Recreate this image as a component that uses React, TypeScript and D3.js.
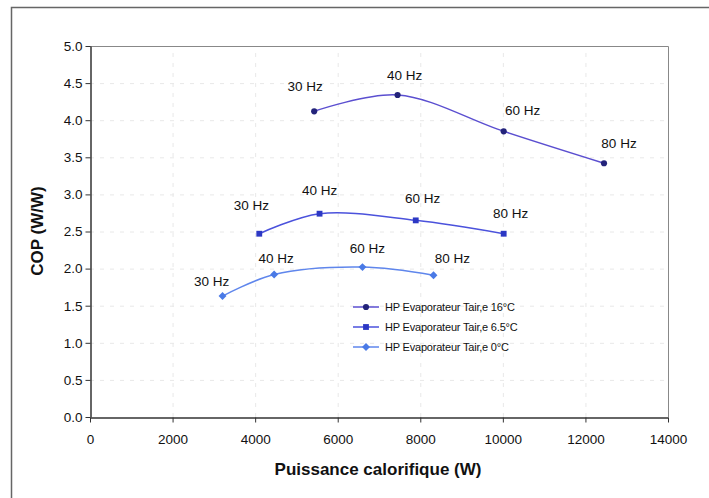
import React, { useEffect, useRef } from 'react';
import * as d3 from 'd3';

// data
const freqLabels = ['30 Hz', '40 Hz', '60 Hz', '80 Hz'];
const seriesNames = [
  'HP Evaporateur Tair,e 16°C',
  'HP Evaporateur Tair,e 6.5°C',
  'HP Evaporateur Tair,e 0°C',
];
const power16 = [5430, 7450, 10020, 12450];
const cop16 = [4.12, 4.34, 3.85, 3.42];
const power65 = [4100, 5560, 7890, 10020];
const cop65 = [2.47, 2.74, 2.65, 2.47];
const power0 = [3210, 4460, 6600, 8320];
const cop0 = [1.63, 1.92, 2.02, 1.91];

const xTicks = [0, 2000, 4000, 6000, 8000, 10000, 12000, 14000];
const yTicks = [0, 0.5, 1, 1.5, 2, 2.5, 3, 3.5, 4, 4.5, 5];

// label placement relative to each point (px)
const labelOffsets = [
  [[-9, -20], [7, -15], [19, -16], [15, -15]],
  [[-8, -24], [0, -19], [7, -17], [7, -16]],
  [[-11, -10], [2, -12], [5, -14], [19, -12]],
];

const lineColors = ['#5b4fd0', '#4b52dc', '#5f86ec'];
const markerColors = ['#23237a', '#2c38c4', '#4a7ae6'];
const markerShapes = [d3.symbolCircle, d3.symbolSquare, d3.symbolDiamond2];
const markerSizes = [30, 34, 40];

const W = 709;
const H = 498;
const margin = { left: 90, right: 41, top: 46, bottom: 81 };

const App = () => {
  const ref = useRef<SVGSVGElement>(null);

  useEffect(() => {
    const svg = d3.select(ref.current);
    svg.selectAll('*').remove();

    const font = 'Liberation Sans, Arial, sans-serif';

    const x = d3.scaleLinear().domain([0, 14000]).range([margin.left, W - margin.right]);
    const y = d3.scaleLinear().domain([0, 5]).range([H - margin.bottom, margin.top]);

    svg.append('rect').attr('width', W).attr('height', H).attr('fill', '#fff');

    // outer frame
    svg.append('path')
      .attr('d', `M${W + 2},7.5 H11.5 V${H + 2}`)
      .attr('fill', 'none')
      .attr('stroke', '#666')
      .attr('stroke-width', 1.5);

    // grid (very faint in the original)
    const grid = svg.append('g').attr('stroke', '#e8e8e8').attr('stroke-dasharray', '4,6');
    grid.selectAll('.gy')
      .data(yTicks.slice(1, -1))
      .enter()
      .append('line')
      .attr('x1', x(0)).attr('x2', x(14000))
      .attr('y1', d => y(d) + 0.5).attr('y2', d => y(d) + 0.5);
    grid.selectAll('.gx')
      .data(xTicks.slice(1, -1))
      .enter()
      .append('line')
      .attr('y1', y(0)).attr('y2', y(5))
      .attr('x1', d => x(d) + 0.5).attr('x2', d => x(d) + 0.5);

    // plot border top / right
    svg.append('path')
      .attr('d', `M${x(0)},${y(5) + 0.5} H${x(14000) + 0.5} V${y(0)}`)
      .attr('fill', 'none')
      .attr('stroke', '#888');

    // axes
    const xAxis = svg.append('g')
      .attr('transform', `translate(0,${y(0) + 0.5})`)
      .call(d3.axisBottom(x).tickValues(xTicks).tickSize(5).tickSizeOuter(0).tickFormat(d3.format('d')));
    xAxis.select('.domain').attr('stroke', '#333').attr('stroke-width', 1.5);
    xAxis.selectAll('line').attr('stroke', '#333');
    xAxis.selectAll('text')
      .attr('font-family', font).attr('font-size', 13.5).attr('fill', '#111').attr('dy', '1.35em');

    const yAxis = svg.append('g')
      .attr('transform', `translate(${x(0) + 0.5},0)`)
      .call(d3.axisLeft(y).tickValues(yTicks).tickSize(5).tickSizeOuter(0).tickFormat(d3.format('.1f')));
    yAxis.select('.domain').attr('stroke', '#333').attr('stroke-width', 1.5);
    yAxis.selectAll('line').attr('stroke', '#333');
    yAxis.selectAll('text')
      .attr('font-family', font).attr('font-size', 13.5).attr('fill', '#111').attr('x', -8);

    // axis titles
    svg.append('text')
      .attr('x', 378).attr('y', 475)
      .attr('text-anchor', 'middle')
      .attr('font-family', font).attr('font-size', 17).attr('font-weight', 'bold').attr('fill', '#111')
      .text('Puissance calorifique (W)');
    svg.append('text')
      .attr('transform', `translate(43,231) rotate(-90)`)
      .attr('text-anchor', 'middle')
      .attr('font-family', font).attr('font-size', 17).attr('font-weight', 'bold').attr('fill', '#111')
      .text('COP (W/W)');

    const series = [
      { xs: power16, ys: cop16 },
      { xs: power65, ys: cop65 },
      { xs: power0, ys: cop0 },
    ];

    const line = d3.line<[number, number]>()
      .x(d => x(d[0]))
      .y(d => y(d[1]))
      .curve(d3.curveCatmullRom.alpha(0.5));

    series.forEach((s, i) => {
      const pts: [number, number][] = s.xs.map((v, j) => [v, s.ys[j]]);
      svg.append('path')
        .datum(pts)
        .attr('d', line)
        .attr('fill', 'none')
        .attr('stroke', lineColors[i])
        .attr('stroke-width', 1.5);

      svg.selectAll(`.m${i}`)
        .data(pts)
        .enter()
        .append('path')
        .attr('d', d3.symbol().type(markerShapes[i]).size(markerSizes[i]))
        .attr('transform', d => `translate(${x(d[0])},${y(d[1])})`)
        .attr('fill', markerColors[i]);

      svg.selectAll(`.l${i}`)
        .data(pts)
        .enter()
        .append('text')
        .attr('x', (d, j) => x(d[0]) + labelOffsets[i][j][0])
        .attr('y', (d, j) => y(d[1]) + labelOffsets[i][j][1])
        .attr('text-anchor', 'middle')
        .attr('font-family', font).attr('font-size', 13.5).attr('fill', '#111')
        .text((d, j) => freqLabels[j]);
    });

    // legend
    const legend = svg.append('g').attr('transform', 'translate(353,307)');
    seriesNames.forEach((name, i) => {
      const g = legend.append('g').attr('transform', `translate(0,${i * 20})`);
      g.append('line')
        .attr('x1', 0).attr('x2', 26).attr('y1', 0).attr('y2', 0)
        .attr('stroke', lineColors[i]).attr('stroke-width', 1.5);
      g.append('path')
        .attr('d', d3.symbol().type(markerShapes[i]).size(markerSizes[i])())
        .attr('transform', 'translate(13,0)')
        .attr('fill', markerColors[i]);
      g.append('text')
        .attr('x', 32).attr('y', 4)
        .attr('font-family', font).attr('font-size', 11).attr('fill', '#111')
        .attr('letter-spacing', -0.2)
        .text(name);
    });
  }, []);

  return (
    <svg
      ref={ref}
      width={W}
      height={H}
      style={{ position: 'absolute', left: 0, top: 0 }}
    />
  );
};

export default App;
